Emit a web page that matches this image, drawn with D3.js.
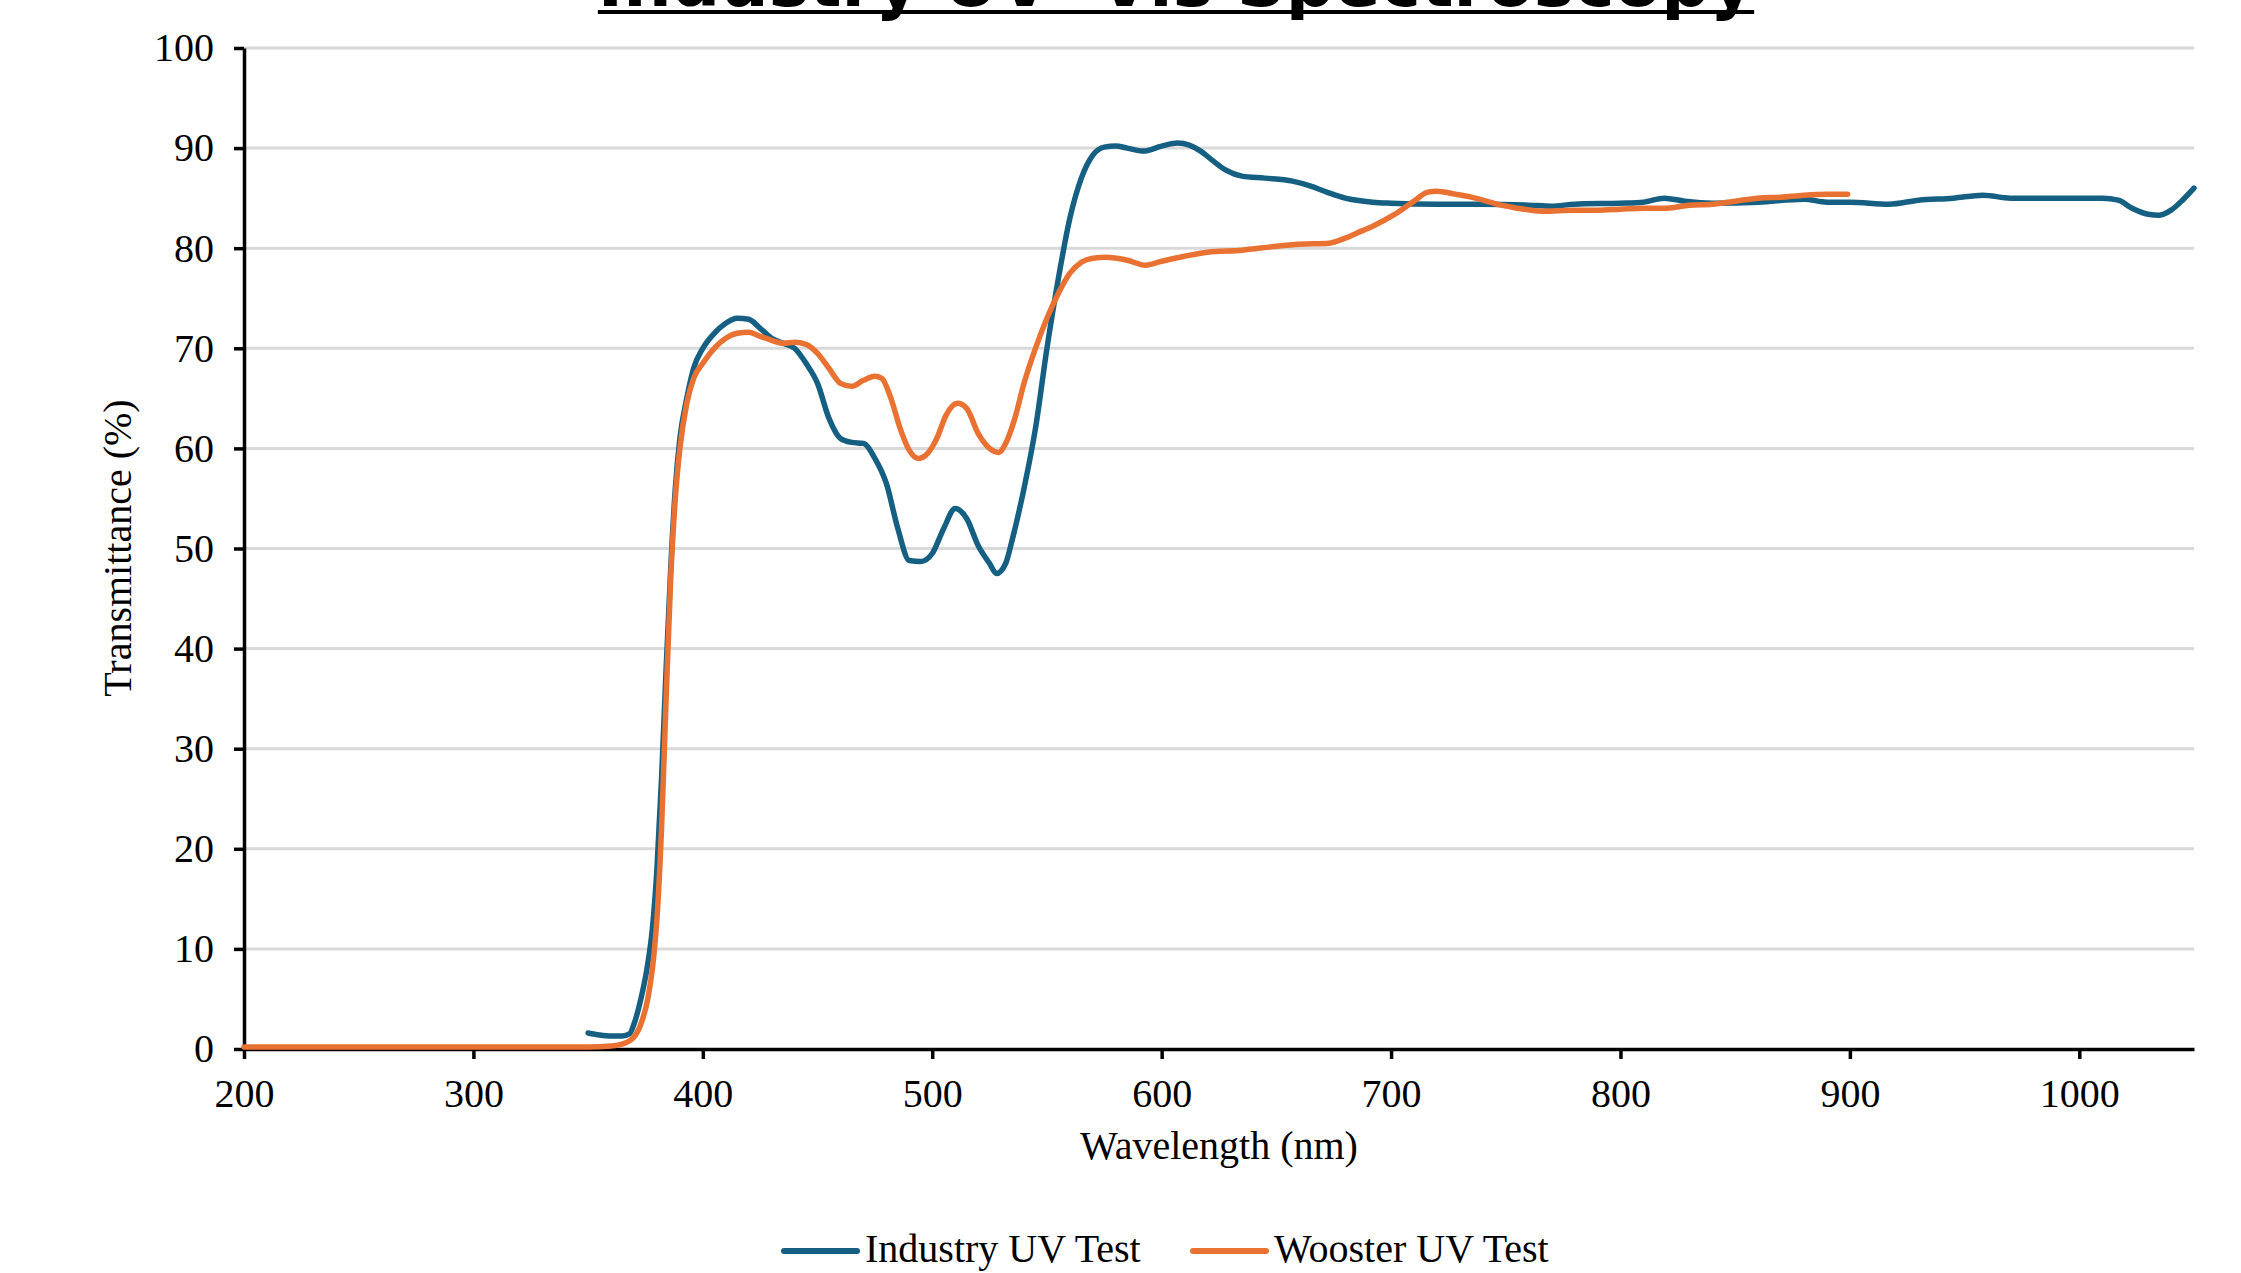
<!DOCTYPE html>
<meta charset="utf-8">
<style>
    body { margin: 0; background: #fff; }
    .tick text { font-family: "Liberation Serif", "Times New Roman", serif; font-size: 40px; fill: #000; }
    .axis-title { font-family: "Liberation Serif", "Times New Roman", serif; font-size: 40px; fill: #000; }
    .legend text { font-family: "Liberation Serif", "Times New Roman", serif; font-size: 40px; fill: #000; }
    .title { font-family: "DejaVu Sans", Verdana, sans-serif; font-weight: bold; font-size: 68px; fill: #000; }
</style>

<body>
    <script src="https://d3js.org/d3.v7.min.js"></script>
    <script>

        // Industry UV test
        var industryNm = [350, 355, 360, 365, 368, 370, 373, 376, 378, 380, 382, 384, 386, 388, 390, 393, 396, 400,
            405, 410, 415, 420, 425, 430, 435, 440, 445, 450, 455, 460, 465, 470, 475, 480, 485, 490, 495, 500,
            505, 510, 515, 520, 525, 528, 532, 535, 540, 545, 550, 555, 560, 565, 570, 575, 580, 585, 592, 600,
            607, 612, 617, 622, 628, 635, 645, 657, 665, 672, 680, 692, 700, 720, 740, 760, 770, 780, 800, 810,
            819, 828, 840, 860, 880, 890, 900, 917, 930, 945, 958, 970, 990, 1010, 1017, 1023, 1030, 1035, 1040, 1045, 1050];
        var industryT = [1.6, 1.4, 1.3, 1.3, 1.5, 2.5, 5, 8.5, 12, 18, 27, 38, 48, 56, 61, 65, 68, 70,
            71.5, 72.5, 73, 72.9, 72, 71, 70.5, 70, 68.5, 66.5, 63, 61, 60.6, 60.5, 59, 56.5, 52, 48.8, 48.7, 49.5,
            52, 54, 53, 50.3, 48.5, 47.5, 48.5, 51, 56, 62, 70, 77, 83, 87, 89.3, 90.1, 90.2, 90, 89.7, 90.2,
            90.5, 90.3, 89.7, 88.8, 87.8, 87.2, 87, 86.7, 86.2, 85.6, 85, 84.6, 84.5, 84.4, 84.4, 84.3, 84.2, 84.4, 84.5, 84.6,
            85, 84.7, 84.5, 84.6, 84.9, 84.6, 84.6, 84.4, 84.8, 85, 85.3, 85, 85, 85, 84.8, 84, 83.4, 83.3, 83.8, 84.8, 86];

        // Wooster UV test
        var woosterNm = [200, 250, 300, 350, 360, 365, 370, 373, 376, 378, 380, 382, 384, 386, 388, 390, 393, 396, 400,
            405, 410, 415, 420, 425, 430, 435, 440, 445, 450, 455, 460, 465, 470, 475, 478, 482, 486, 490, 494, 498,
            502, 506, 511, 515, 520, 525, 529, 532, 536, 540, 545, 550, 555, 560, 565, 570, 576, 585, 593, 600,
            610, 620, 635, 650, 660, 673, 680, 685, 692, 701, 710, 716, 720, 728, 735, 748, 755, 766, 780, 790,
            800, 810, 820, 830, 840, 850, 860, 870, 880, 890, 899];
        var woosterT = [0.2, 0.2, 0.2, 0.2, 0.3, 0.5, 1.2, 2.5, 5, 8, 13, 22, 35, 47, 55, 60, 64.5, 67, 68.5,
            70, 71, 71.5, 71.6, 71.2, 70.8, 70.5, 70.6, 70.4, 69.5, 68, 66.5, 66.2, 66.8, 67.2, 67, 65, 62, 59.8, 59, 59.5,
            61, 63.3, 64.5, 64, 61.5, 60, 59.6, 60.5, 63, 66.5, 70, 73, 75.5, 77.5, 78.6, 79, 79.1, 78.8, 78.3, 78.7,
            79.2, 79.6, 79.8, 80.2, 80.4, 80.5, 81, 81.5, 82.2, 83.3, 84.7, 85.6, 85.7, 85.4, 85.1, 84.3, 84, 83.7, 83.8, 83.8,
            83.9, 84, 84, 84.3, 84.4, 84.7, 85, 85.1, 85.3, 85.4, 85.4];

        var seriesNames = ["Industry UV Test", "Wooster UV Test"];
        var seriesColors = ["#156082", "#E97132"];
        var xTicks = [200, 300, 400, 500, 600, 700, 800, 900, 1000];
        var yTicks = [0, 10, 20, 30, 40, 50, 60, 70, 80, 90, 100];

        var width = 2241, height = 1273;

        var svg = d3.select("body").append("svg")
            .attr("width", width)
            .attr("height", height);

        // scales
        var x = d3.scaleLinear().domain([200, 1050]).range([244, 2194]);
        var y = d3.scaleLinear().domain([0, 100]).range([1049, 48]);

        // gridlines
        svg.append("g").selectAll("line")
            .data(yTicks.slice(1))
            .enter().append("line")
            .attr("x1", x(200)).attr("x2", x(1050))
            .attr("y1", function (d) { return y(d); })
            .attr("y2", function (d) { return y(d); })
            .attr("stroke", "#d9d9d9")
            .attr("stroke-width", 3);

        // axes
        var xAxis = svg.append("g")
            .attr("transform", "translate(0," + y(0) + ")")
            .call(d3.axisBottom(x).tickValues(xTicks).tickFormat(d3.format("d"))
                .tickSize(10).tickSizeOuter(0).tickPadding(20));
        var yAxis = svg.append("g")
            .attr("transform", "translate(" + x(200) + ",0)")
            .call(d3.axisLeft(y).tickValues(yTicks).tickFormat(d3.format("d"))
                .tickSize(10).tickSizeOuter(0).tickPadding(20));

        [xAxis, yAxis].forEach(function (a) {
            a.attr("font-size", null).attr("font-family", null);
            a.select(".domain").attr("stroke", "#000").attr("stroke-width", 3.5);
            a.selectAll(".tick line").attr("stroke", "#000").attr("stroke-width", 3.5);
        });

        // lines
        var line = d3.line()
            .x(function (d) { return x(d[0]); })
            .y(function (d) { return y(d[1]); })
            .curve(d3.curveMonotoneX);

        var series = [
            d3.zip(industryNm, industryT),
            d3.zip(woosterNm, woosterT)
        ];

        svg.append("g").selectAll("path")
            .data(series)
            .enter().append("path")
            .attr("d", line)
            .attr("fill", "none")
            .attr("stroke", function (d, i) { return seriesColors[i]; })
            .attr("stroke-width", 5.5)
            .attr("stroke-linejoin", "round")
            .attr("stroke-linecap", "round");

        // title, cut at the top like the original
        var title = svg.append("text")
            .attr("class", "title")
            .attr("x", 1176)
            .attr("y", 6)
            .attr("text-anchor", "middle")
            .text("Industry UV- Vis Spectroscopy");
        var tw = title.node().getComputedTextLength();
        svg.append("rect")
            .attr("x", 1176 - tw / 2).attr("y", 10)
            .attr("width", tw).attr("height", 4)
            .attr("fill", "#000");

        // axis titles
        svg.append("text")
            .attr("class", "axis-title")
            .attr("x", 1219).attr("y", 1159)
            .attr("text-anchor", "middle")
            .text("Wavelength (nm)");

        svg.append("text")
            .attr("class", "axis-title")
            .attr("transform", "translate(131,548) rotate(-90)")
            .attr("text-anchor", "middle")
            .text("Transmittance (%)");

        // legend
        var legendX = [784, 1193];
        var legend = svg.append("g").attr("class", "legend");
        seriesNames.forEach(function (name, i) {
            legend.append("line")
                .attr("x1", legendX[i]).attr("x2", legendX[i] + 73)
                .attr("y1", 1251).attr("y2", 1251)
                .attr("stroke", seriesColors[i])
                .attr("stroke-width", 6)
                .attr("stroke-linecap", "round");
            legend.append("text")
                .attr("x", legendX[i] + 81).attr("y", 1262)
                .text(name);
        });

    </script>
</body>
